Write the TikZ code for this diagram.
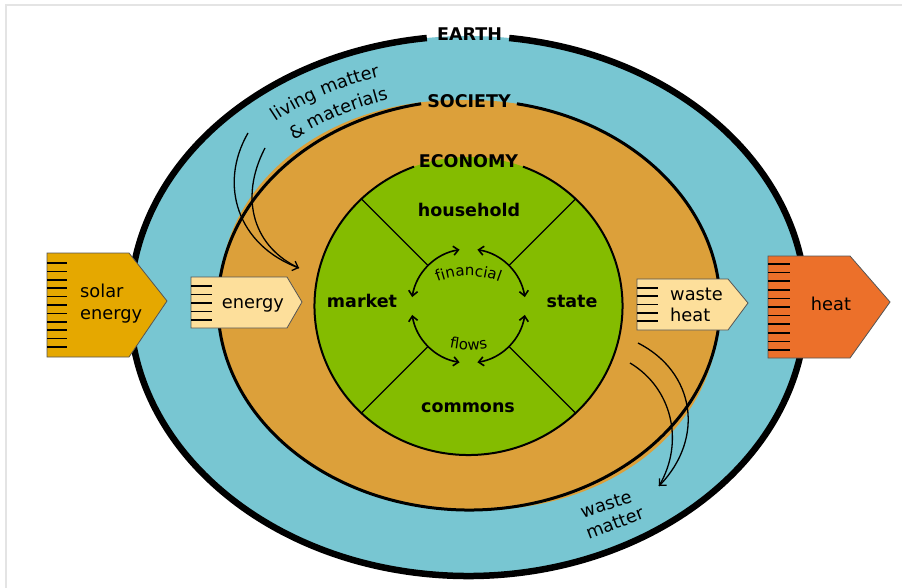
\documentclass[tikz,border=0pt]{standalone}
\usepackage{fontspec}
\setmainfont{DejaVu Sans}
\usetikzlibrary{arrows.meta,decorations.text}
\definecolor{earthblue}{RGB}{120,198,210}
\definecolor{societyor}{RGB}{220,160,58}
\definecolor{econgreen}{RGB}{132,188,0}
\definecolor{solarc}{RGB}{229,168,0}
\definecolor{palec}{RGB}{253,223,155}
\definecolor{heatc}{RGB}{236,112,42}
\definecolor{framec}{RGB}{228,228,228}
\definecolor{edgec}{RGB}{85,85,85}
\newcommand{\fsz}[1]{\fontsize{#1}{#1}\selectfont}
\tikzset{
  ringlabel/.style={font=\fsz{17.5}\bfseries, anchor=base, inner sep=0pt},
  sectorlabel/.style={font=\fsz{17.5}\bfseries, anchor=base, inner sep=0pt},
  boxtext/.style={font=\fsz{17.8}, inner sep=0pt},
  flowbox/.style={draw=edgec, line width=0.8pt},
  hatchline/.style={line width=1.6pt, black},
  divider/.style={line width=1.4pt, black},
  flowarc/.style={line width=1.6pt, {Straight Barb[length=5pt,width=9pt]}-{Straight Barb[length=5pt,width=9pt]}},
  matterline/.style={line width=1.3pt, black},
  mattertip/.style={-{Straight Barb[length=5pt,width=10pt]}},
}
\begin{document}
\begin{tikzpicture}[x=1pt,y=-1pt]
\useasboundingbox (0,0) rectangle (902,588);
\fill[white] (0,0) rectangle (902,588);
\draw[framec, line width=1.5pt] (6,588) -- (6,5) -- (902,5);
% centres
\coordinate (C) at (468,306);
\coordinate (S) at (469,305);
\coordinate (E) at (468.5,306);
% Earth
\fill[earthblue] (C) ellipse [x radius=338, y radius=270];
\draw[line width=6.5pt] (C) ++(277:338 and 270) arc[start angle=277, end angle=623, x radius=338, y radius=270];
% Society
\fill[societyor] (S) ellipse [x radius=251, y radius=205];
\fill[societyor, rotate around={-7:(S)}] (S) ellipse [x radius=250, y radius=204];
\draw[line width=3pt] (S) ++(281:251 and 205) arc[start angle=281, end angle=619, x radius=251, y radius=205];
% Economy
\fill[econgreen] (E) ellipse [x radius=154, y radius=149];
\draw[line width=2pt] (E) ++(290.7:154 and 149) arc[start angle=290.7, end angle=609.3, x radius=154, y radius=149];
\foreach \a in {45,135,225,315} \draw[divider] (E) ++(\a:57) -- ++(\a:95);
% financial flows
\draw[flowarc] (E) ++(189:57) arc[start angle=189, end angle=261, radius=57];
\draw[flowarc] (E) ++(279:57) arc[start angle=279, end angle=351, radius=57];
\draw[flowarc] (E) ++(9:57) arc[start angle=9, end angle=81, radius=57];
\draw[flowarc] (E) ++(99:57) arc[start angle=99, end angle=171, radius=57];
\path[decorate, decoration={text along path, text align=center, text={|\fsz{15}|financial}}]
  (468.5,362) ++(236:86) arc[start angle=236, end angle=304, radius=86];
\path[decorate, decoration={text along path, text align=center, text={|\fsz{15}|flows}}]
  (468.5,262) ++(122:88) arc[start angle=122, end angle=58, radius=88];
% ring labels
\node[ringlabel] (earth) at (469.5,40.5) {EARTH};
\node[ringlabel] (society) at (469,108) {SOCIETY};
\node[ringlabel] (economy) at (468.5,168) {ECONOMY};
\node[sectorlabel] (household) at (469,216) {household};
\node[sectorlabel] (market) at (362,307) {market};
\node[sectorlabel] (state) at (572,307) {state};
\node[sectorlabel] (commons) at (468,412) {commons};
% solar energy box
\draw[flowbox, fill=solarc] (47,253) -- (129,253) -- (167,301) -- (129,357) -- (47,357) -- cycle;
\foreach \k in {0,...,10} \draw[hatchline] (47,{263+8.4*\k}) -- (67,{263+8.4*\k});
\node[boxtext, anchor=base west] (solar1) at (80,297) {solar};
\node[boxtext, anchor=base west] (solar2) at (80,319) {energy};
% energy box
\draw[flowbox, fill=palec] (191,277) -- (287,277) -- (302,302) -- (287,328) -- (191,328) -- cycle;
\foreach \k in {0,...,4} \draw[hatchline] (191,{286+8.5*\k}) -- (212,{286+8.5*\k});
\node[boxtext, anchor=base] (energylbl) at (253,308) {energy};
% waste heat box
\draw[flowbox, fill=palec] (637,279) -- (728,279) -- (748,303) -- (728,330) -- (637,330) -- cycle;
\foreach \k in {0,...,4} \draw[hatchline] (637,{288+8.25*\k}) -- (658,{288+8.25*\k});
\node[boxtext, anchor=base west] (waste1) at (670,300) {waste};
\node[boxtext, anchor=base west] (waste2) at (670,321) {heat};
% heat box
\draw[flowbox, fill=heatc] (768,256) -- (850,256) -- (890,302) -- (850,358) -- (768,358) -- cycle;
\foreach \k in {0,...,10} \draw[hatchline] (768,{264+8.6*\k}) -- (790,{264+8.6*\k});
\node[boxtext, anchor=base] (heatlbl) at (831,310) {heat};
% living matter & materials
\path[decorate, decoration={text along path, text align=center, text={|\fsz{17.8}|living matter}}]
  (C) ++(218:300 and 240) arc[start angle=218, end angle=264, x radius=300, y radius=240];
\path[decorate, decoration={text along path, text align=center, text={|\fsz{17.8}|{\&} materials}}]
  (C) ++(218:271 and 216) arc[start angle=218, end angle=264, x radius=271, y radius=216];
\coordinate (lmA) at (248,133);
\coordinate (lmB) at (265,148);
\coordinate (lmT) at (299,268);
\draw[matterline, mattertip] (lmA) .. controls (218,185) and (238,245) .. (lmT);
\draw[matterline] (lmB) .. controls (238,200) and (255,248) .. (lmT);
% waste matter
\coordinate (wmA) at (638,343);
\coordinate (wmB) at (630,363);
\coordinate (wmT) at (659,486);
\draw[matterline, mattertip] (wmA) .. controls (695,372) and (705,438) .. (wmT);
\draw[matterline] (wmB) .. controls (672,388) and (685,442) .. (wmT);
\node[boxtext, anchor=base, rotate=18] (wm1) at (608,510) {waste};
\node[boxtext, anchor=base, rotate=21] (wm2) at (617,529) {matter};
\end{tikzpicture}
\end{document}
